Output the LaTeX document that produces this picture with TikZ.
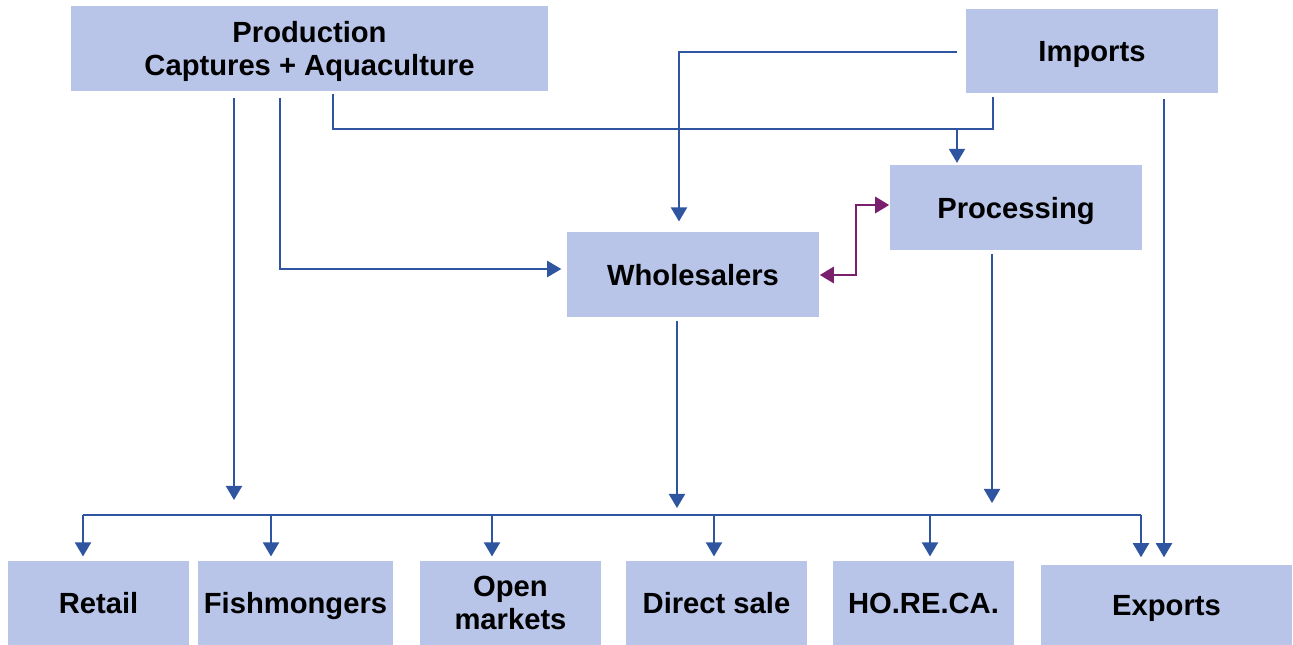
\documentclass[tikz,border=0pt]{standalone}
\usepackage{fontspec}
\setmainfont{Liberation Sans}
\usetikzlibrary{arrows.meta}
\definecolor{boxfill}{HTML}{B8C5E9}
\definecolor{linec}{HTML}{2F55A0}
\definecolor{purp}{HTML}{7A1F6E}
\begin{document}
\begin{tikzpicture}[x=0.01cm,y=-0.01cm,
  box/.style={fill=boxfill,draw=none,inner sep=0pt,align=center,text depth=0pt,
    font=\fontsize{8.3}{9.5}\selectfont\bfseries},
  conn/.style={draw=linec,line width=0.45pt},
  arr/.style={conn,-{Triangle[width=4.6pt,length=4pt]}},
  parr/.style={draw=purp,line width=0.75pt,{Triangle[width=4.6pt,length=4pt]}-{Triangle[width=4.6pt,length=4pt]}}]
\useasboundingbox (0,0) rectangle (1293,645);
% boxes
\node[box,minimum width=4.77cm,minimum height=0.85cm] (prod) at (309.5,48.5) {Production\\Captures + Aquaculture};
\node[box,minimum width=2.52cm,minimum height=0.84cm] (imp) at (1092,51) {Imports};
\node[box,minimum width=2.52cm,minimum height=0.85cm] (proc) at (1016,207.5) {Processing};
\node[box,minimum width=2.52cm,minimum height=0.85cm] (whole) at (693,274.5) {Wholesalers};
\node[box,minimum width=1.81cm,minimum height=0.84cm] (retail) at (98.5,603) {Retail};
\node[box,minimum width=1.95cm,minimum height=0.84cm] (fish) at (295.5,603) {Fishmongers};
\node[box,minimum width=1.81cm,minimum height=0.84cm] (open) at (510.5,603) {Open\\markets};
\node[box,minimum width=1.81cm,minimum height=0.84cm] (direct) at (716.5,603) {Direct sale};
\node[box,minimum width=1.81cm,minimum height=0.84cm] (horeca) at (923.5,603) {HO.RE.CA.};
\node[box,minimum width=2.51cm,minimum height=0.80cm] (exp) at (1166.5,605) {Exports};
% coordinates
\coordinate (a1) at (234,500);
\coordinate (b1) at (280,269);
\coordinate (k1) at (333,129);
\coordinate (k2) at (993,129);
\coordinate (j1) at (957,129);
\coordinate (c1) at (679,52);
\coordinate (e1) at (1164,98);
\coordinate (w1) at (677,508);
\coordinate (p1) at (992,503);
\coordinate (m1) at (856,275);
\coordinate (m2) at (856,205);
\coordinate (d1) at (83,515);
\coordinate (d2) at (271,515);
\coordinate (d3) at (492,515);
\coordinate (d4) at (714,515);
\coordinate (d5) at (930,515);
\coordinate (d6) at (1141,515);
% connectors
\draw[arr] (prod.south -| a1) ++(0,6) -- (a1);
\draw[arr,shorten >=1.4pt] (prod.south -| b1) ++(0,6) -- (b1) -- (b1 -| whole.west);
\draw[conn,shorten >=0.8pt] (prod.south -| k1) ++(0,2) -- (k1) -- (k2) -- (imp.south -| k2);
\draw[arr,shorten >=0.4pt] (j1) -- (j1 |- proc.north);
\draw[arr,shorten >=2.8pt] (imp.west |- c1) ++(-8,0) -- (c1) -- (c1 |- whole.north);
\draw[arr,shorten >=2pt] (imp.south -| e1) ++(0,5) -- (e1 |- exp.north);
\draw[arr] (whole.south -| w1) ++(0,3) -- (w1);
\draw[arr] (proc.south -| p1) ++(0,3) -- (p1);
\draw[parr] (whole.east |- m1) -- (m1) -- (m2) -- (m2 -| proc.west);
% bus
\draw[conn] (d1) -- (d6);
\draw[arr,shorten >=1.1pt] (d1) -- (d1 |- retail.north);
\draw[arr,shorten >=1.1pt] (d2) -- (d2 |- fish.north);
\draw[arr,shorten >=1.1pt] (d3) -- (d3 |- open.north);
\draw[arr,shorten >=1.1pt] (d4) -- (d4 |- direct.north);
\draw[arr,shorten >=1.1pt] (d5) -- (d5 |- horeca.north);
\draw[arr,shorten >=2pt] (d6) -- (d6 |- exp.north);
\end{tikzpicture}
\end{document}
